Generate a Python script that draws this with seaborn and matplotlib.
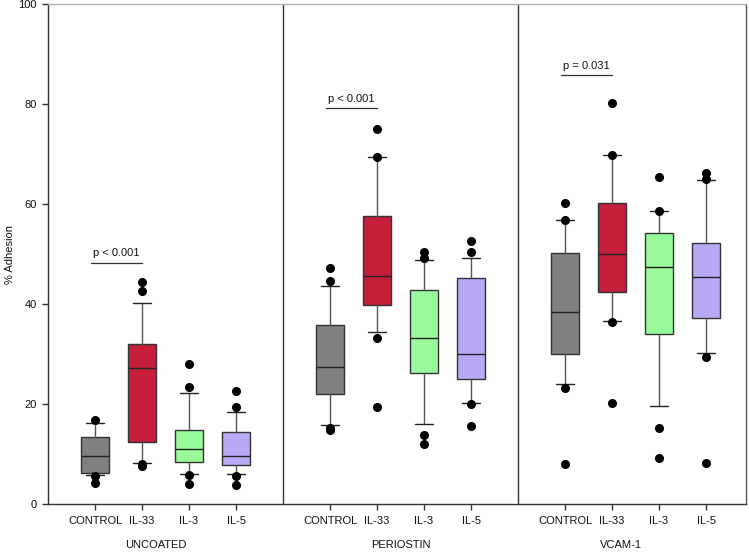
import numpy as np
import seaborn as sns
import matplotlib.pyplot as plt
import matplotlib.transforms as mtrans

sns.set_style("white")
plt.rcParams['font.family'] = ['Liberation Sans', 'DejaVu Sans']

groups = ["UNCOATED", "PERIOSTIN", "VCAM-1"]
treatments = ["CONTROL", "IL-33", "IL-3", "IL-5"]

# box statistics, order: UNCOATED x4, PERIOSTIN x4, VCAM-1 x4
whislo = [5.8, 8.3, 6.0, 6.0,
          15.8, 34.4, 16.0, 20.3,
          24.1, 36.6, 19.6, 30.3]
q1 = [6.3, 12.4, 8.5, 7.8,
      22.1, 39.9, 26.3, 25.1,
      30.1, 42.5, 34.1, 37.2]
med = [9.6, 27.2, 11.1, 9.6,
       27.5, 45.7, 33.3, 30.1,
       38.5, 50.0, 47.5, 45.4]
q3 = [13.4, 32.0, 14.8, 14.5,
      35.9, 57.7, 42.8, 45.3,
      50.2, 60.2, 54.3, 52.2]
whishi = [16.3, 40.2, 22.2, 18.5,
          43.7, 69.4, 48.8, 49.2,
          56.8, 69.9, 58.6, 64.8]
fliers = [[16.8, 5.6, 4.3], [44.5, 42.6, 8.0, 7.7], [28.0, 23.5, 5.8, 4.0], [22.6, 19.4, 5.6, 3.9],
          [47.3, 44.7, 15.2, 14.8], [75.0, 69.4, 33.3, 19.5], [50.5, 49.2, 13.9, 12.0], [52.7, 50.4, 20.1, 15.6],
          [60.3, 56.8, 23.2, 8.1], [80.2, 69.9, 36.5, 20.2], [65.5, 58.7, 15.2, 9.3], [66.3, 65.1, 29.4, 8.2]]

p_labels = ["p < 0.001", "p < 0.001", "p = 0.031"]
p_heights = [48.3, 79.3, 85.8]

colors = ["#808080", "#C41E3A", "#99FB99", "#BAA9F6"]

positions = []
for g in range(len(groups)):
    positions += [g * 5 + i + 1 for i in range(len(treatments))]

stats = []
for i in range(len(positions)):
    stats.append(dict(whislo=whislo[i], q1=q1[i], med=med[i], q3=q3[i],
                      whishi=whishi[i], fliers=fliers[i]))

fig = plt.figure(figsize=(7.49, 5.52), dpi=100)
ax = fig.add_axes([48 / 749, 48 / 552, 698 / 749, 500 / 552])

bp = ax.bxp(stats, positions=positions, widths=0.6, capwidths=0.4,
            patch_artist=True, manage_ticks=False,
            boxprops=dict(edgecolor="#333333", linewidth=1.0),
            medianprops=dict(color="#222222", linewidth=1.0),
            whiskerprops=dict(color="#555555", linewidth=1.0),
            capprops=dict(color="#222222", linewidth=1.0),
            flierprops=dict(marker="o", markerfacecolor="black", markeredgecolor="black",
                            markersize=5.5, linestyle="none", zorder=4))
for i, box in enumerate(bp["boxes"]):
    box.set_facecolor(colors[i % 4])

for sep in [5, 10]:
    ax.axvline(sep, color="#333333", linewidth=1.0)

ax.set_xlim(0, 14.85)
ax.set_ylim(0, 100)
ax.set_yticks([0, 20, 40, 60, 80, 100])
ax.set_xticks(positions)
ax.set_xticklabels(treatments * len(groups))
ax.tick_params(axis="both", direction="out", length=4, width=1, color="#333333",
               labelsize=8, labelcolor="#111111", pad=4)
ax.tick_params(axis="x", pad=5)
ax.tick_params(left=True, bottom=True)

for side in ["left", "bottom"]:
    ax.spines[side].set_color("#333333")
    ax.spines[side].set_linewidth(1.0)
ax.spines["top"].set_color("#b0b0b0")
ax.spines["top"].set_linewidth(1.0)
ax.spines["right"].set_color("#555555")
ax.spines["right"].set_linewidth(1.0)

ax.set_ylabel("% Adhesion", fontsize=8, color="#111111")
ax.yaxis.set_label_coords(-0.047, 0.5)

group_x = [2.3, 7.5, 12.2]
trans = mtrans.blended_transform_factory(ax.transData, ax.transAxes)
for gx, name in zip(group_x, groups):
    ax.annotate(name, xy=(gx, 0), xycoords=trans, xytext=(0, -41),
                textcoords="offset pixels", ha="center", va="center",
                fontsize=8, color="#111111")

for g in range(len(groups)):
    x0 = positions[g * 4] - 0.08
    x1 = positions[g * 4 + 1]
    ax.plot([x0, x1], [p_heights[g], p_heights[g]], color="#333333", linewidth=0.9)
    ax.text((x0 + x1) / 2, p_heights[g] + 0.8, p_labels[g], ha="center", va="bottom",
            fontsize=8, color="#111111")

fig.savefig("out.png", dpi=100)
